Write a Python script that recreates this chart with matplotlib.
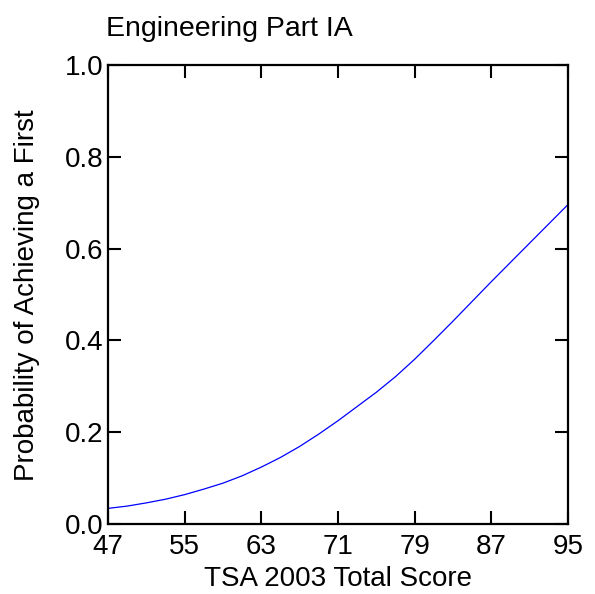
import matplotlib
matplotlib.use("Agg")
import matplotlib.pyplot as plt

plt.rcParams['font.family'] = ['Liberation Sans', 'DejaVu Sans']

# Data
score = [47, 49, 51, 53, 55, 57, 59, 61, 63, 65, 67, 69, 71,
         73, 75, 77, 79, 81, 83, 85, 87, 89, 91, 93, 95]
prob = [0.034, 0.039, 0.046, 0.054, 0.064, 0.076, 0.089, 0.105, 0.124, 0.145, 0.169, 0.196, 0.225,
        0.256, 0.287, 0.321, 0.359, 0.400, 0.442, 0.485, 0.528, 0.570, 0.612, 0.654, 0.696]
xticks = [47, 55, 63, 71, 79, 87, 95]
yticks = [0.0, 0.2, 0.4, 0.6, 0.8, 1.0]

W, H = 595, 594
fig = plt.figure(figsize=(W / 100, H / 100), dpi=100)
ax = fig.add_axes([108 / W, 70 / H, 460 / W, 459 / H])
ax.plot(score, prob, color='#0000ff', lw=0.9)
ax.set_xlim(47, 95)
ax.set_ylim(0, 1)
ax.set_xticks(xticks)
ax.set_xticklabels([str(t) for t in xticks])
ax.set_yticks(yticks)
ax.set_yticklabels([f"{t:.1f}" for t in yticks])
ax.tick_params(direction='in', length=9.5, width=1.5, top=True, right=True,
               labelsize=20)
ax.tick_params(axis='x', pad=7)
ax.tick_params(axis='y', pad=3.5)
for s in ax.spines.values():
    s.set_linewidth(1.6)
fig.text(338 / W, 1 - 579 / H, "TSA 2003 Total Score", fontsize=20,
         ha='center', va='center')
fig.text(27 / W, 1 - 295 / H, "Probability of Achieving a First", fontsize=20,
         ha='center', va='center', rotation=90)
fig.text(106 / W, 1 - 36 / H, "Engineering Part IA", fontsize=20.5,
         ha='left', va='baseline')
fig.savefig("out.png", dpi=100)
